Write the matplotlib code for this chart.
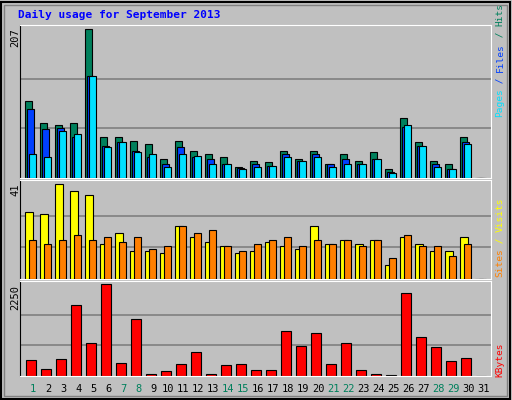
import matplotlib
matplotlib.use("Agg")
import matplotlib.pyplot as plt
from matplotlib.patches import Rectangle

days = list(range(1, 32))
hits  = [107,76,74,76,207,57,57,51,48,27,52,38,34,29,16,24,22,38,27,38,20,33,24,36,12,83,50,24,19,57,0]
files = [96,68,69,57,142,45,50,38,29,19,43,29,26,20,14,19,17,33,23,33,19,27,20,26,9,71,45,19,13,50,0]
pages = [33,29,66,61,142,43,50,36,33,15,33,31,19,20,12,16,17,29,23,29,16,19,19,26,7,74,44,16,13,48,0]
visits = [29,28,41,38,36,15,20,12,12,11,23,18,16,14,11,12,16,14,13,23,15,17,15,17,6,18,15,12,12,18,0]
sites  = [17,15,17,19,17,18,16,18,13,14,23,20,21,14,12,15,17,18,14,17,15,17,14,17,9,19,14,14,10,15,0]
kbytes = [402,181,427,1733,821,2250,328,1388,57,131,304,599,57,279,304,156,156,1092,747,1043,304,821,156,57,33,2028,944,722,378,451,0]
weekend = [1,7,8,14,15,21,22,28,29]

W, H = 512, 400
fig = plt.figure(figsize=(W/100, H/100), dpi=100)
fig.patch.set_facecolor("#C0C0C0")
BG = "#C0C0C0"
mono = "DejaVu Sans Mono"

fig.add_artist(Rectangle((1/W, 1/H), 1-3/W, 1-3/H, transform=fig.transFigure,
                         fill=False, edgecolor="black", lw=1.5))
fig.add_artist(Rectangle((4/W, 4/H), 1-9/W, 1-9/H, transform=fig.transFigure,
                         fill=False, edgecolor="#808080", lw=1))

def mkax(top, bottom):
    ax = fig.add_axes([20/W, 1-bottom/H, 471/W, (bottom-top)/H])
    ax.set_facecolor(BG)
    ax.set_xlim(0, 471)
    for s in ax.spines.values():
        s.set_color("white")
    ax.spines["left"].set_color("black")
    ax.set_xticks([]); ax.set_yticks([])
    return ax

def grid(ax, mx, top_pad):
    ax.set_ylim(0, mx*top_pad)
    for f in (1/3, 2/3):
        ax.axhline(mx*f, color="#808080", lw=1.2, zorder=0)

ax1 = mkax(25, 178)
grid(ax1, 207, 1.03)
xs = [15*(d-1) for d in days]
ek = dict(edgecolor="black", linewidth=0.8, align="edge")
ax1.bar([x+5.3 for x in xs], hits, 7, color="#00805C", zorder=2, **ek)
ax1.bar([x+7.3 for x in xs], files, 7, color="#0040FF", zorder=3, **ek)
ax1.bar([x+9.3 for x in xs], pages, 7, color="#00E0FF", zorder=4, **ek)

ax2 = mkax(180, 279)
grid(ax2, 41, 1.04)
ax2.bar([x+5.3 for x in xs], visits, 8, color="#FFFF00", zorder=2, **ek)
ax2.bar([x+9.3 for x in xs], sites, 7, color="#FF8000", zorder=3, **ek)

ax3 = mkax(281, 376)
grid(ax3, 2250, 1.035)
ax3.bar([x+6.3 for x in xs], kbytes, 10, color="#FF0000", zorder=2, **ek)

for d, x in zip(days, xs):
    fig.text((20+x+13.3)/W, 1-389/H, str(d), ha="center", va="center", fontsize=7.5,
             family=mono, color="#00805C" if d in weekend else "black")

fig.text(18/W, 1-15/H, "Daily usage for September 2013", color="#0000FF", fontsize=8,
         family=mono, fontweight="bold", va="center", ha="left")

for ytop, t in [(28, "207"), (184, "41"), (285, "2250")]:
    fig.text(15/W, 1-ytop/H, t, rotation=90, ha="center", va="top", fontsize=7.5, family=mono)

renderer = fig.canvas.get_renderer()

def vlabel(ybottom, parts):
    y = ybottom
    for txt, col in parts:
        t = fig.text(500/W, 1-y/H, txt, rotation=90, ha="center", va="bottom", fontsize=6.8,
                     family=mono, color=col)
        n = len(txt)
        y -= n * 0.6 * 6.8 * 100 / 72

vlabel(117, [("Pages", "#00E0FF"), (" / ", "#0040FF"), ("Files", "#0040FF"), (" / ", "#00805C"), ("Hits", "#00805C")])
vlabel(277, [("Sites", "#FF8000"), (" / ", "#FFFF00"), ("Visits", "#FFFF00")])
vlabel(377, [("KBytes", "#FF0000")])

fig.savefig("out.png", dpi=100, facecolor=fig.get_facecolor())
